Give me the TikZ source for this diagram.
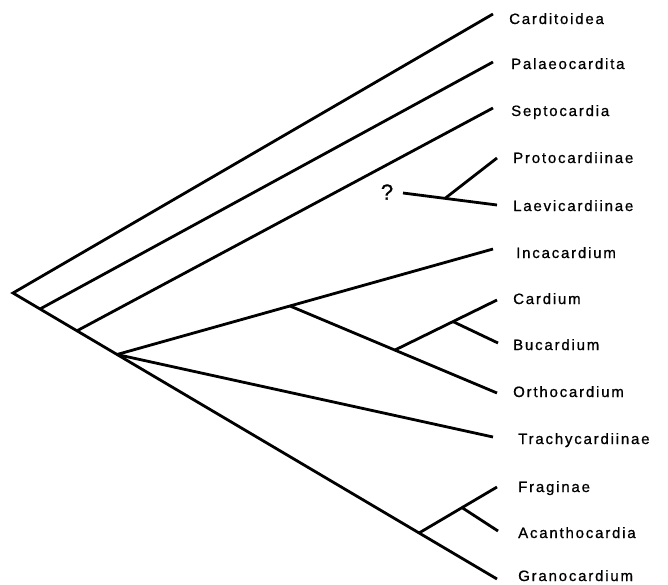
\documentclass[tikz,border=0pt]{standalone}
\usepackage{fontspec}
\setmainfont{Liberation Sans}[LetterSpace=12,FakeBold=0.8]
\begin{document}
\begin{tikzpicture}[x=1pt,y=-1pt,
  branch/.style={line width=2.8pt,line cap=butt,line join=miter},
  taxon/.style={anchor=base west,inner sep=0pt,font=\fontsize{15}{18}\selectfont}]
\useasboundingbox (0,0) rectangle (668,584);
% internal points
\coordinate (root) at (13,293);
\coordinate (n1) at (40,309);
\coordinate (n2) at (77,330.8);
\coordinate (n3) at (117,354.5);
\coordinate (n4) at (290,306);
\coordinate (n5) at (395,350);
\coordinate (n6) at (453,321.6);
\coordinate (nF) at (419,533);
\coordinate (nA) at (462,507.6);
\coordinate (q) at (403,193);
\coordinate (nP) at (445,198.4);
% tips
\coordinate (tCd) at (493,14);
\coordinate (tPa) at (493,62);
\coordinate (tSe) at (493,108);
\coordinate (tPr) at (497,158);
\coordinate (tLa) at (497,205);
\coordinate (tIn) at (493,249);
\coordinate (tCa) at (497,300);
\coordinate (tBu) at (498,343);
\coordinate (tOr) at (497,393);
\coordinate (tTr) at (493,437);
\coordinate (tFr) at (497,487);
\coordinate (tAc) at (498,531);
\coordinate (tGr) at (497,579);
% labels
\node[taxon] (lCd) at (509,24) {Carditoidea};
\node[taxon] (lPa) at (511,69) {Palaeocardita};
\node[taxon] (lSe) at (511,116) {Septocardia};
\node[taxon] (lPr) at (513,163) {Protocardiinae};
\node[taxon] (lLa) at (513,211) {Laevicardiinae};
\node[taxon] (lIn) at (516,258) {Incacardium};
\node[taxon] (lCa) at (513,304) {Cardium};
\node[taxon] (lBu) at (513,350) {Bucardium};
\node[taxon] (lOr) at (513,397) {Orthocardium};
\node[taxon] (lTr) at (518,444) {Trachycardiinae};
\node[taxon] (lFr) at (518,492) {Fraginae};
\node[taxon] (lAc) at (518,538) {Acanthocardia};
\node[taxon] (lGr) at (518,581) {Granocardium};
\node[anchor=center,inner sep=0pt,font=\fontsize{22}{24}\selectfont] (qm) at (387,192) {?};
% branches
\draw[branch] (tCd) -- (root) -- (tGr);
\draw[branch] (n1) -- (tPa);
\draw[branch] (n2) -- (tSe);
\draw[branch] (n3) -- (tIn);
\draw[branch] (n3) -- (tTr);
\draw[branch] (n4) -- (tOr);
\draw[branch] (n5) -- (tCa);
\draw[branch] (n6) -- (tBu);
\draw[branch] (nF) -- (tFr);
\draw[branch] (nA) -- (tAc);
\draw[branch] (q) -- (tLa);
\draw[branch] (nP) -- (tPr);
\end{tikzpicture}
\end{document}
